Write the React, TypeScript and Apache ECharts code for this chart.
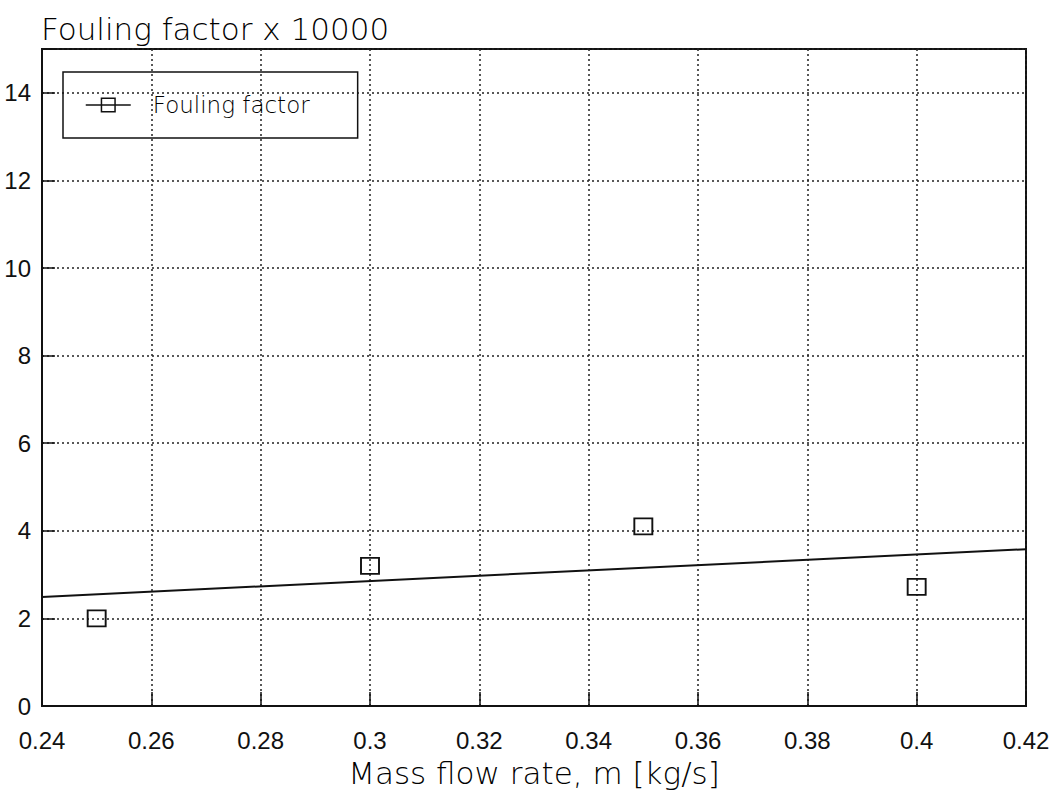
import React, { useEffect, useRef } from "react";
import * as echarts from "echarts";

const massFlow = [0.25, 0.3, 0.35, 0.4];
const foulingFactor = [2.0, 3.2, 4.1, 2.72];
const trendX = [0.24, 0.42];
const trendY = [2.49, 3.58];

const xTicksMin = 0.24;
const xTicksMax = 0.42;
const xInterval = 0.02;
const yMin = 0;
const yMax = 15;
const yInterval = 2;

export default function App() {
  const ref = useRef<HTMLDivElement>(null);
  useEffect(() => {
    if (!ref.current) return;
    const chart = echarts.init(ref.current, undefined, { renderer: "svg" });
    const fmtX = (v: number) => String(parseFloat(v.toFixed(2)));
    chart.setOption({
      animation: false,
      backgroundColor: "#fff",
      title: {
        text: "Fouling factor x 10000",
        left: 36,
        top: 8,
        textStyle: {
          fontFamily: "DejaVu Sans",
          fontWeight: 300,
          fontSize: 31,
          color: "#000",
        },
      },
      grid: {
        left: 42,
        right: 28,
        top: 49,
        bottom: 83,
        show: true,
        borderColor: "#111",
        borderWidth: 2,
        backgroundColor: "transparent",
      },
      legend: {
        left: 63,
        top: 72,
        orient: "vertical",
        padding: [20, 48, 20, 22],
        borderColor: "#111",
        borderWidth: 1.5,
        itemWidth: 45,
        itemHeight: 17,
        data: ["Fouling factor"],
        lineStyle: { width: 1.5, color: "#111", opacity: 1 },
        itemStyle: { color: "transparent", borderColor: "#111", borderWidth: 1.5 },
        textStyle: {
          fontFamily: "DejaVu Sans",
          fontWeight: 300,
          fontSize: 23,
          color: "#000",
          lineHeight: 26,
          padding: [0, 0, 0, 17],
        },
      },
      xAxis: {
        type: "value",
        min: xTicksMin,
        max: xTicksMax,
        interval: xInterval,
        name: "Mass flow rate, m [kg/s]",
        nameLocation: "middle",
        nameGap: 51,
        nameTextStyle: {
          fontFamily: "DejaVu Sans",
          fontWeight: 300,
          fontSize: 31,
          color: "#000",
        },
        axisLine: { show: true, lineStyle: { color: "#111", width: 2 } },
        axisTick: { show: true, inside: true, length: 14, lineStyle: { color: "#111", width: 1.5 } },
        axisLabel: {
          formatter: fmtX,
          fontFamily: "Liberation Sans",
          fontSize: 24,
          color: "#111",
          margin: 22,
        },
        splitLine: {
          show: true,
          lineStyle: { color: "#222", width: 1.5, type: [2, 3] },
        },
      },
      yAxis: {
        type: "value",
        min: yMin,
        max: yMax,
        interval: yInterval,
        axisLine: { show: true, lineStyle: { color: "#111", width: 2 } },
        axisTick: { show: true, inside: true, length: 13, lineStyle: { color: "#111", width: 1.5 } },
        axisLabel: {
          formatter: (v: number) => (v > 14 ? "" : String(v)),
          fontFamily: "Liberation Sans",
          fontSize: 24,
          color: "#111",
          margin: 11,
        },
        splitLine: {
          show: true,
          lineStyle: { color: "#222", width: 1.5, type: [2, 3] },
        },
      },
      series: [
        {
          name: "Fouling factor",
          type: "line",
          data: massFlow.map((x, i) => [x, foulingFactor[i]]),
          symbol: "rect",
          symbolSize: [18, 16],
          showSymbol: true,
          lineStyle: { width: 0, opacity: 0 },
          itemStyle: { color: "transparent", borderColor: "#111", borderWidth: 1.8 },
          z: 3,
        },
        {
          name: "trend",
          type: "line",
          data: trendX.map((x, i) => [x, trendY[i]]),
          showSymbol: false,
          symbol: "none",
          lineStyle: { width: 2, color: "#111" },
          z: 2,
        },
      ],
    });
    return () => chart.dispose();
  }, []);
  return <div ref={ref} style={{ width: 1054, height: 793, position: "absolute", left: 0, top: 0 }} />;
}
